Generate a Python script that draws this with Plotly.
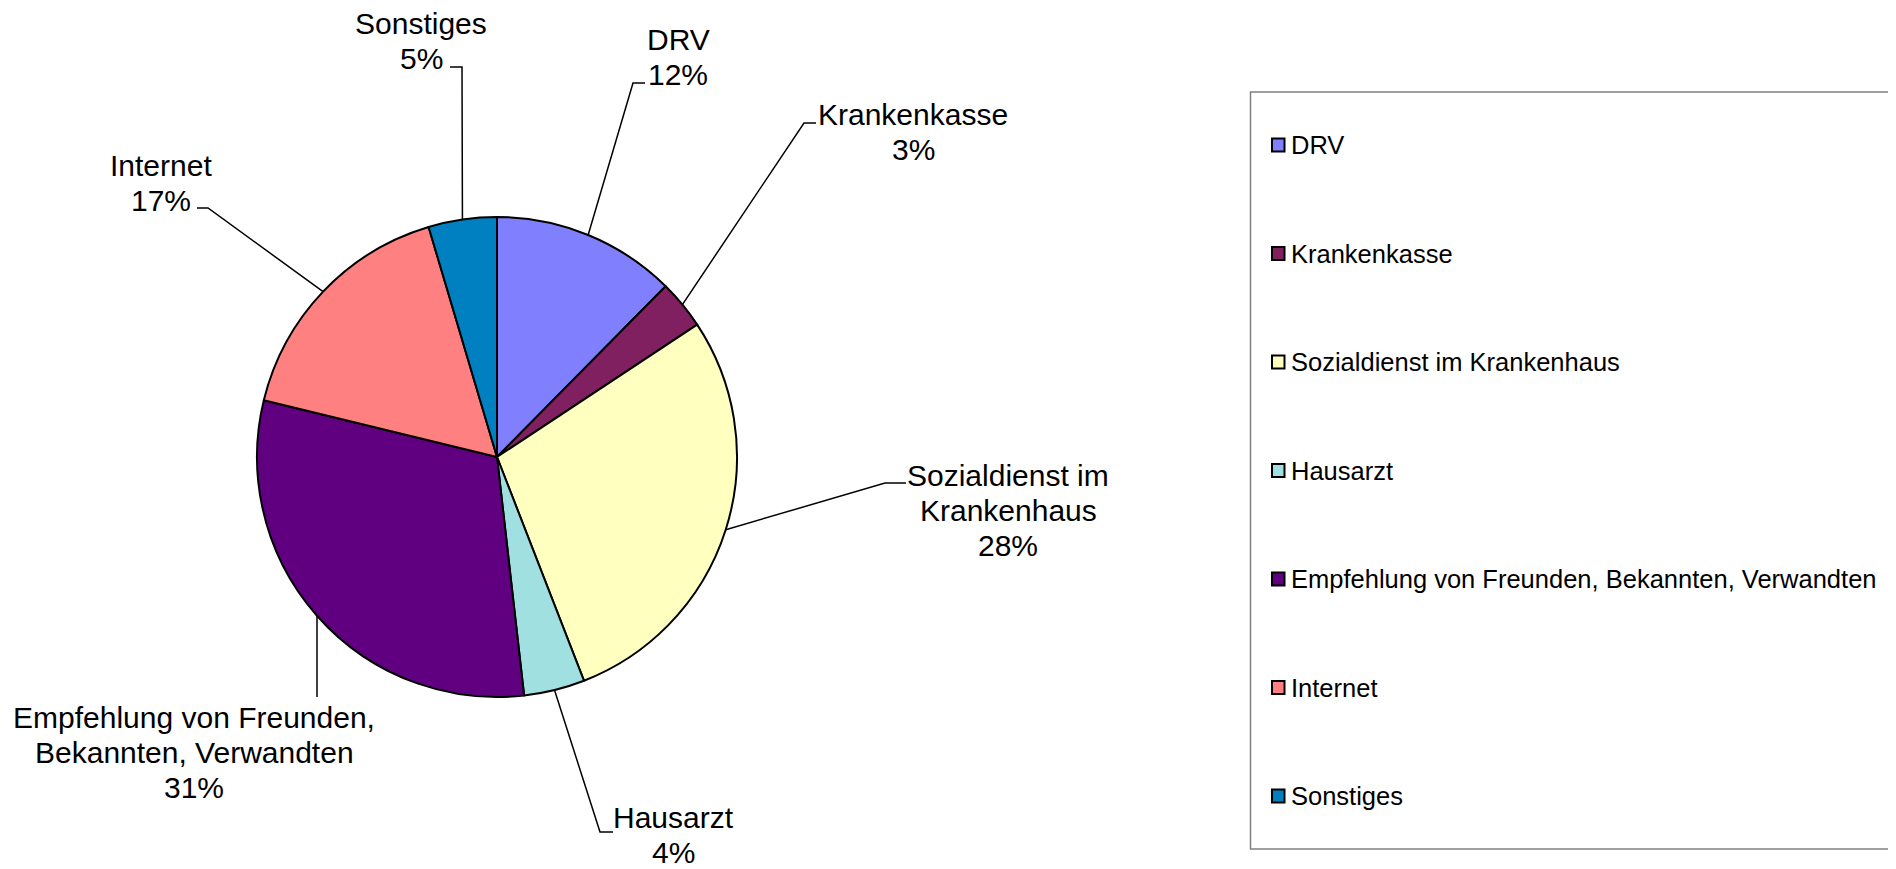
import math
import plotly.graph_objects as go

# ---- data (shares in percent) ----
labels = ["DRV", "Krankenkasse", "Sozialdienst im Krankenhaus", "Hausarzt",
          "Empfehlung von Freunden, Bekannten, Verwandten", "Internet", "Sonstiges"]
values = [12.4, 3.3, 28.4, 4.1, 30.6, 16.6, 4.6]
colors = ["#8080FF", "#802060", "#FFFFC0", "#A0E0E0", "#600080", "#FF8080", "#0080C0"]
# label text as shown next to the pie (lines)
pie_label_lines = [["DRV"], ["Krankenkasse"], ["Sozialdienst im", "Krankenhaus"], ["Hausarzt"],
                   ["Empfehlung von Freunden,", "Bekannten, Verwandten"], ["Internet"], ["Sonstiges"]]

# ---- layout constants (pixels of the 1896x869 window) ----
W, H = 1896, 869
OFF = 8  # page body margin
FW, FH = W - OFF, H - OFF
CX, CY, R = 497, 457, 240
FONT = "Liberation Sans, Arial, sans-serif"
LINE_H = 35

def px(x):
    return (x - OFF) / FW

def py(y):
    return 1 - (y - OFF) / FH

# label placement: text centre (x, y), elbow near label (x1,y1)->(x2,y2)
label_layout = [
    dict(tx=678, ty=57, e1=(645, 83), e2=(633, 83)),     # DRV
    dict(tx=913, ty=132, e1=(816, 123), e2=(804, 123)),  # Krankenkasse
    dict(tx=1008, ty=510, e1=(906, 483), e2=(885, 483)), # Sozialdienst
    dict(tx=673, ty=835, e1=(613, 832), e2=(600, 832)),  # Hausarzt
    dict(tx=194, ty=752, e1=(317, 697), e2=(317, 697)),  # Empfehlung
    dict(tx=161, ty=183, e1=(197, 208), e2=(208, 208)),  # Internet
    dict(tx=421, ty=41, e1=(450, 67), e2=(462, 67)),     # Sonstiges
]

fig = go.Figure()
fig.add_trace(go.Pie(
    labels=labels, values=values, sort=False, direction="clockwise", rotation=0,
    marker=dict(colors=colors, line=dict(color="black", width=2)),
    textinfo="none", hoverinfo="label+percent",
    domain=dict(x=[px(CX - R), px(CX + R)], y=[py(CY + R), py(CY - R)]),
    showlegend=False,
))

total = sum(values)
shapes = []
annotations = []
cum = 0.0
for lines, val, lay in zip(pie_label_lines, values, label_layout):
    frac = val / total
    mid = (cum + frac / 2) * 2 * math.pi
    cum += frac
    ex = CX + R * math.sin(mid)
    ey = CY - R * math.cos(mid)
    (x1, y1), (x2, y2) = lay["e1"], lay["e2"]
    path = f"M {px(x1)},{py(y1)} L {px(x2)},{py(y2)} L {px(ex)},{py(ey)}"
    shapes.append(dict(type="path", xref="paper", yref="paper", path=path,
                       line=dict(color="black", width=1.5)))
    pct = round(frac * 100)
    all_lines = lines + [f"{pct}%"]
    n = len(all_lines)
    for i, t in enumerate(all_lines):
        yy = lay["ty"] + (i - (n - 1) / 2) * LINE_H
        annotations.append(dict(
            xref="paper", yref="paper", x=px(lay["tx"]), y=py(yy),
            xanchor="center", yanchor="middle", align="center", showarrow=False,
            text=t, font=dict(family=FONT, size=30, color="black")))

# ---- legend box (manual) ----
LX0, LX1, LY0, LY1 = 1250.5, 1894, 92, 849
shapes.append(dict(type="rect", xref="paper", yref="paper",
                   x0=px(LX0), x1=px(LX1), y0=py(LY1), y1=py(LY0),
                   line=dict(color="#808080", width=1.5), fillcolor="rgba(0,0,0,0)"))
item_y0, item_step = 145, 108.5
for i, (lab, col) in enumerate(zip(labels, colors)):
    yc = item_y0 + i * item_step
    shapes.append(dict(type="rect", xref="paper", yref="paper",
                       x0=px(1272), x1=px(1284.5), y0=py(yc + 6.5), y1=py(yc - 6.5),
                       fillcolor=col, line=dict(color="black", width=2)))
    annotations.append(dict(
        xref="paper", yref="paper", x=px(1289), y=py(yc), xanchor="left", yanchor="middle",
        showarrow=False, text=lab, font=dict(family=FONT, size=25.5, color="black")))

fig.update_layout(
    width=FW, height=FH, margin=dict(l=0, r=0, t=0, b=0),
    paper_bgcolor="white", plot_bgcolor="white",
    shapes=shapes, annotations=annotations, showlegend=False,
)

fig.write_html("out.html")
